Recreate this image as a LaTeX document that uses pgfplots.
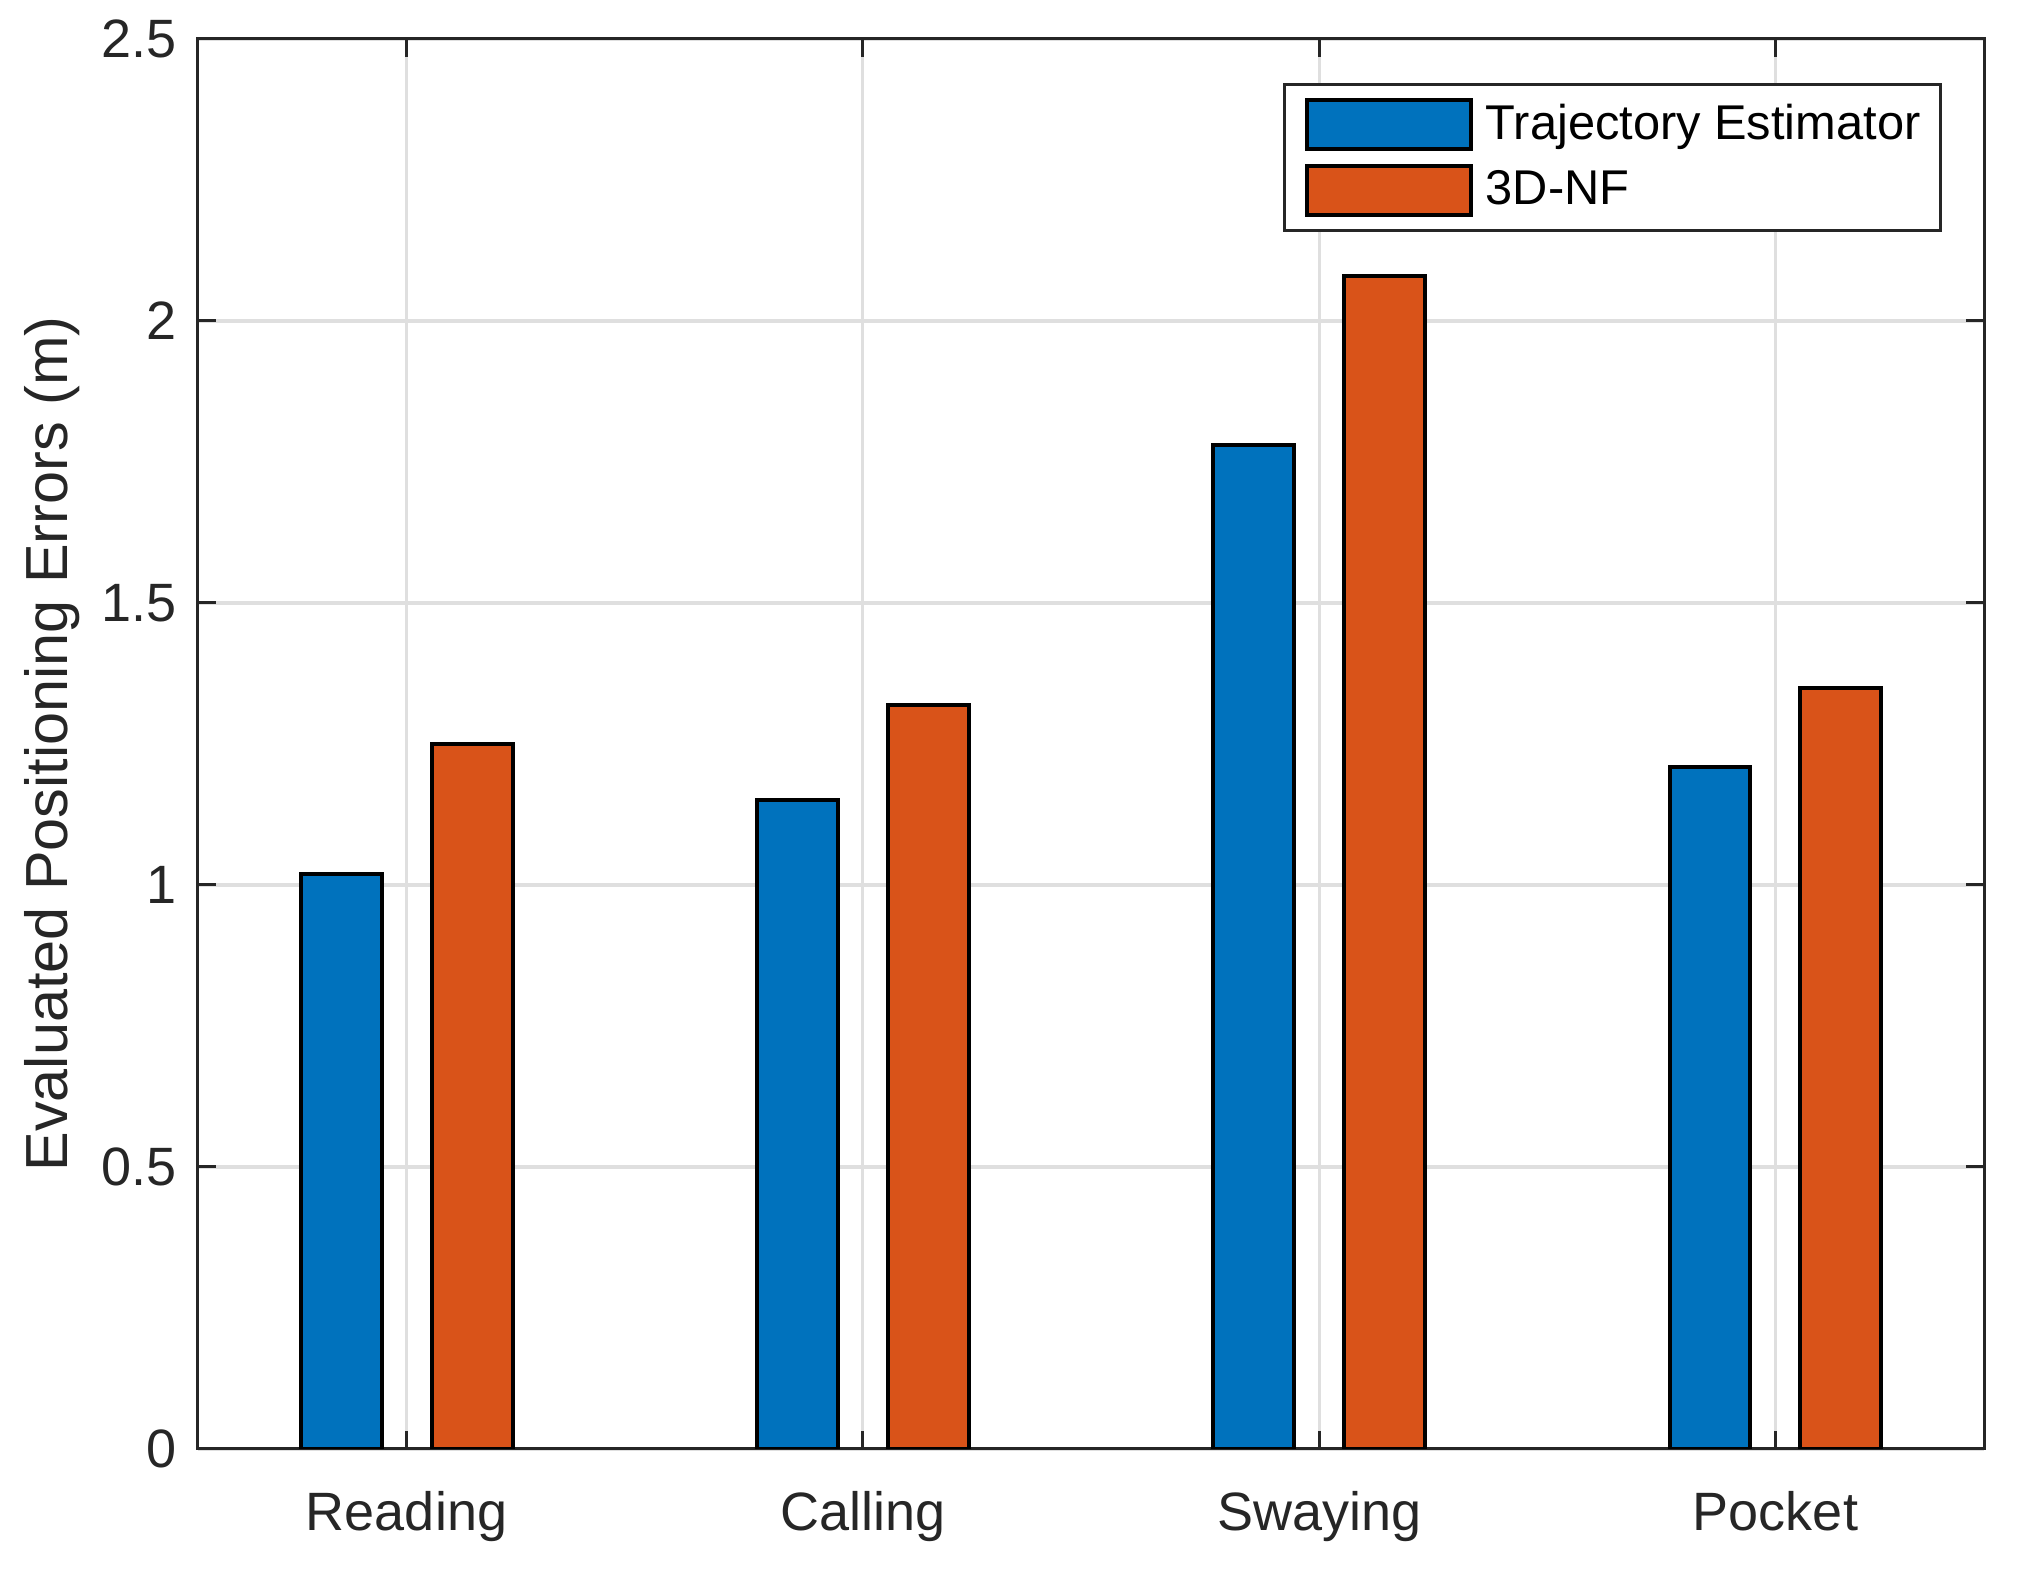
\documentclass[border=0pt]{standalone}
\usepackage{pgfplots}
\pgfplotsset{compat=1.18}
\usepackage{fontspec}
\setmainfont{Liberation Sans}

\definecolor{mblue}{RGB}{0,114,189}
\definecolor{morange}{RGB}{217,83,25}
\definecolor{axgray}{RGB}{38,38,38}
\definecolor{gridgray}{RGB}{223,223,223}

\pgfplotsset{
  barleg/.style={legend image code/.code={%
    \draw[##1,line width=1pt] (0pt,-6.1pt) rectangle (41pt,6.1pt);}},
}

\begin{document}
\begin{tikzpicture}
\path[use as bounding box] (-49.5pt,-35.5pt) rectangle (456.75pt,362.25pt);
\begin{axis}[
    scale only axis,
    width=446.5pt, height=352.5pt,
    xmin=0.543, xmax=4.457,
    ymin=0, ymax=2.5,
    xtick={1,2,3,4},
    xticklabels={Reading,Calling,Swaying,Pocket},
    ytick={0,0.5,1,1.5,2,2.5},
    yticklabels={0,0.5,1,1.5,2,2.5},
    xtick pos=both, ytick pos=both,
    tick align=inside,
    major tick length=4.5pt,
    tick style={axgray, line width=0.75pt},
    axis line style={axgray, line width=0.75pt},
    xmajorgrids=true, ymajorgrids=true,
    grid style={gridgray, line width=0.8pt},
    tick label style={font=\fontsize{13.5}{16}\selectfont, text=axgray},
    xticklabel style={yshift=-7pt},
    yticklabel style={xshift=-1.75pt},
    ylabel={Evaluated Positioning Errors (m)},
    ylabel style={at={(axis description cs:-0.0817,0.5)}, anchor=center,
      font=\fontsize{14.85}{17}\selectfont, text=axgray},
    legend style={at={(0.9765,0.969)}, anchor=north east,
      draw=axgray, line width=0.75pt,
      font=\fontsize{12.2}{14}\selectfont,
      inner xsep=5pt, inner ysep=3.5pt,
      nodes={inner sep=0pt},
      row sep=3.3pt,
      /tikz/every odd column/.append style={column sep=3.25pt}},
    legend cell align=left,
]
\addplot[ybar, bar width=0.1775, bar shift=-0.1435,
  fill=mblue, draw=black, line width=1pt, barleg]
  coordinates {(1,1.02) (2,1.15) (3,1.78) (4,1.21)};
\addplot[ybar, bar width=0.1775, bar shift=0.1435,
  fill=morange, draw=black, line width=1pt, barleg]
  coordinates {(1,1.25) (2,1.32) (3,2.08) (4,1.35)};
\legend{Trajectory Estimator, 3D-NF}
\end{axis}
\end{tikzpicture}
\end{document}
